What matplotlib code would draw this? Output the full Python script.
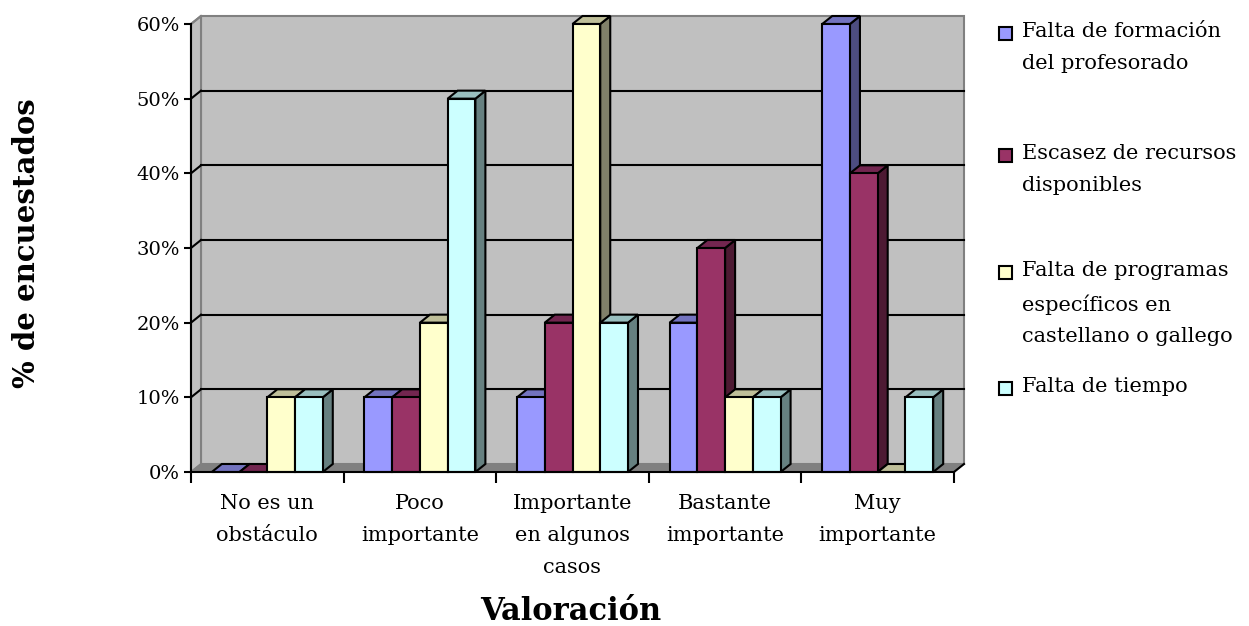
import matplotlib
matplotlib.use("Agg")
import matplotlib.pyplot as plt
from matplotlib.patches import Polygon, Rectangle
import numpy as np

# data
categories = ["No es un\nobstáculo", "Poco\nimportante", "Importante\nen algunos\ncasos",
              "Bastante\nimportante", "Muy\nimportante"]
series_names = ["Falta de formación\ndel profesorado", "Escasez de recursos\ndisponibles",
                "Falta de programas\nespecíficos en\ncastellano o gallego", "Falta de tiempo"]
formacion = [0, 10, 10, 20, 60]
recursos = [0, 10, 20, 30, 40]
programas = [10, 20, 60, 10, 0]
tiempo = [10, 50, 20, 10, 10]
yticks = [0, 10, 20, 30, 40, 50, 60]

series = [formacion, recursos, programas, tiempo]
front_c = ["#9999FF", "#993366", "#FFFFCC", "#CCFFFF"]
top_c = ["#7373BF", "#732650", "#BFBF99", "#99BFBF"]
side_c = ["#4D4D80", "#4D1A33", "#80806A", "#668080"]

plt.rcParams['font.family'] = ['DejaVu Serif']

W, H = 1249, 626
fig = plt.figure(figsize=(W / 100, H / 100), dpi=100)
ax = fig.add_axes([191 / W, 1 - 472 / H, 763 / W, 448 / H])
ax.set_xlim(0, 5)
ax.set_ylim(0, 60)

# 3d depth offset (10 px right, 8 px up) in data units
ddx = 10 * 5 / 763
ddy = 8 * 60 / 448
ymax = 60

def poly(pts, fc, ec, lw=1.5, z=1):
    ax.add_patch(Polygon(pts, closed=True, facecolor=fc, edgecolor=ec, linewidth=lw,
                         zorder=z, clip_on=False, joinstyle='miter'))

# walls and floor
poly([(ddx, ddy), (5 + ddx, ddy), (5 + ddx, ymax + ddy), (ddx, ymax + ddy)], "#C0C0C0", "#808080", 1.5, 0.5)
poly([(0, 0), (ddx, ddy), (ddx, ymax + ddy), (0, ymax)], "#C0C0C0", "#808080", 1.5, 0.6)
poly([(0, 0), (5, 0), (5 + ddx, ddy), (ddx, ddy)], "#808080", "#808080", 1.0, 0.7)
ax.plot([5, 5 + ddx], [0, ddy], color="black", lw=1.5, clip_on=False, zorder=0.8)

# gridlines on back wall + side wall
for v in yticks[1:-1]:
    ax.plot([ddx, 5 + ddx], [v + ddy, v + ddy], color="black", lw=1.5, clip_on=False, zorder=0.9)
    ax.plot([0, ddx], [v, v + ddy], color="black", lw=1.5, clip_on=False, zorder=0.9)
ax.plot([0, ddx], [ymax, ymax + ddy], color="#808080", lw=1.5, clip_on=False, zorder=0.9)

# bars
bw = 1 / 5.5
off = 0.75 * bw
z = 2
for i in range(len(categories)):
    for j, vals in enumerate(series):
        x0 = i + off + j * bw
        x1 = x0 + bw
        h = vals[i]
        poly([(x1, 0), (x1 + ddx, ddy), (x1 + ddx, h + ddy), (x1, h)], side_c[j], "black", 1.5, z)
        poly([(x0, h), (x1, h), (x1 + ddx, h + ddy), (x0 + ddx, h + ddy)], top_c[j], "black", 1.5, z + 0.1)
        if h > 0:
            poly([(x0, 0), (x1, 0), (x1, h), (x0, h)], front_c[j], "black", 1.5, z + 0.2)
        z += 0.3

# front axes
for s in ax.spines.values():
    s.set_visible(False)
ax.plot([0, 0], [0, ymax], color="black", lw=1.5, clip_on=False, zorder=10)
ax.plot([0, 5], [0, 0], color="black", lw=1.5, clip_on=False, zorder=10)

ax.set_yticks(yticks)
ax.set_yticklabels([f"{v}%" for v in yticks], fontsize=14)
ax.tick_params(axis='y', length=5, width=1.5, direction='out', pad=3)
ax.set_xticks(range(6))
ax.set_xticklabels([])
ax.set_xticks(np.arange(5) + 0.5, minor=True)
ax.set_xticklabels(categories, minor=True, fontsize=15, linespacing=1.85)
ax.tick_params(axis='x', which='minor', length=0, pad=16)
ax.tick_params(axis='x', which='major', length=8, width=1.5, direction='out')
ax.patch.set_visible(False)

fig.text(27 / W, 1 - 243 / H, "% de encuestados", rotation=90, fontsize=21, fontweight='bold',
         ha='center', va='center')
fig.text(571 / W, 1 - 612 / H, "Valoración", fontsize=22, fontweight='bold', ha='center', va='center')

# legend
leg_y = [33, 155, 272, 388]
for j, name in enumerate(series_names):
    y = leg_y[j]
    fig.patches.append(Rectangle((999 / W, 1 - (y + 6.5) / H), 13 / W, 13 / H, transform=fig.transFigure,
                                 facecolor=front_c[j], edgecolor="black", linewidth=1.5))
    fig.text(1022 / W, 1 - (y - 11) / H, name, fontsize=15, ha='left', va='top', linespacing=1.85)

fig.savefig("out.png", dpi=100)
